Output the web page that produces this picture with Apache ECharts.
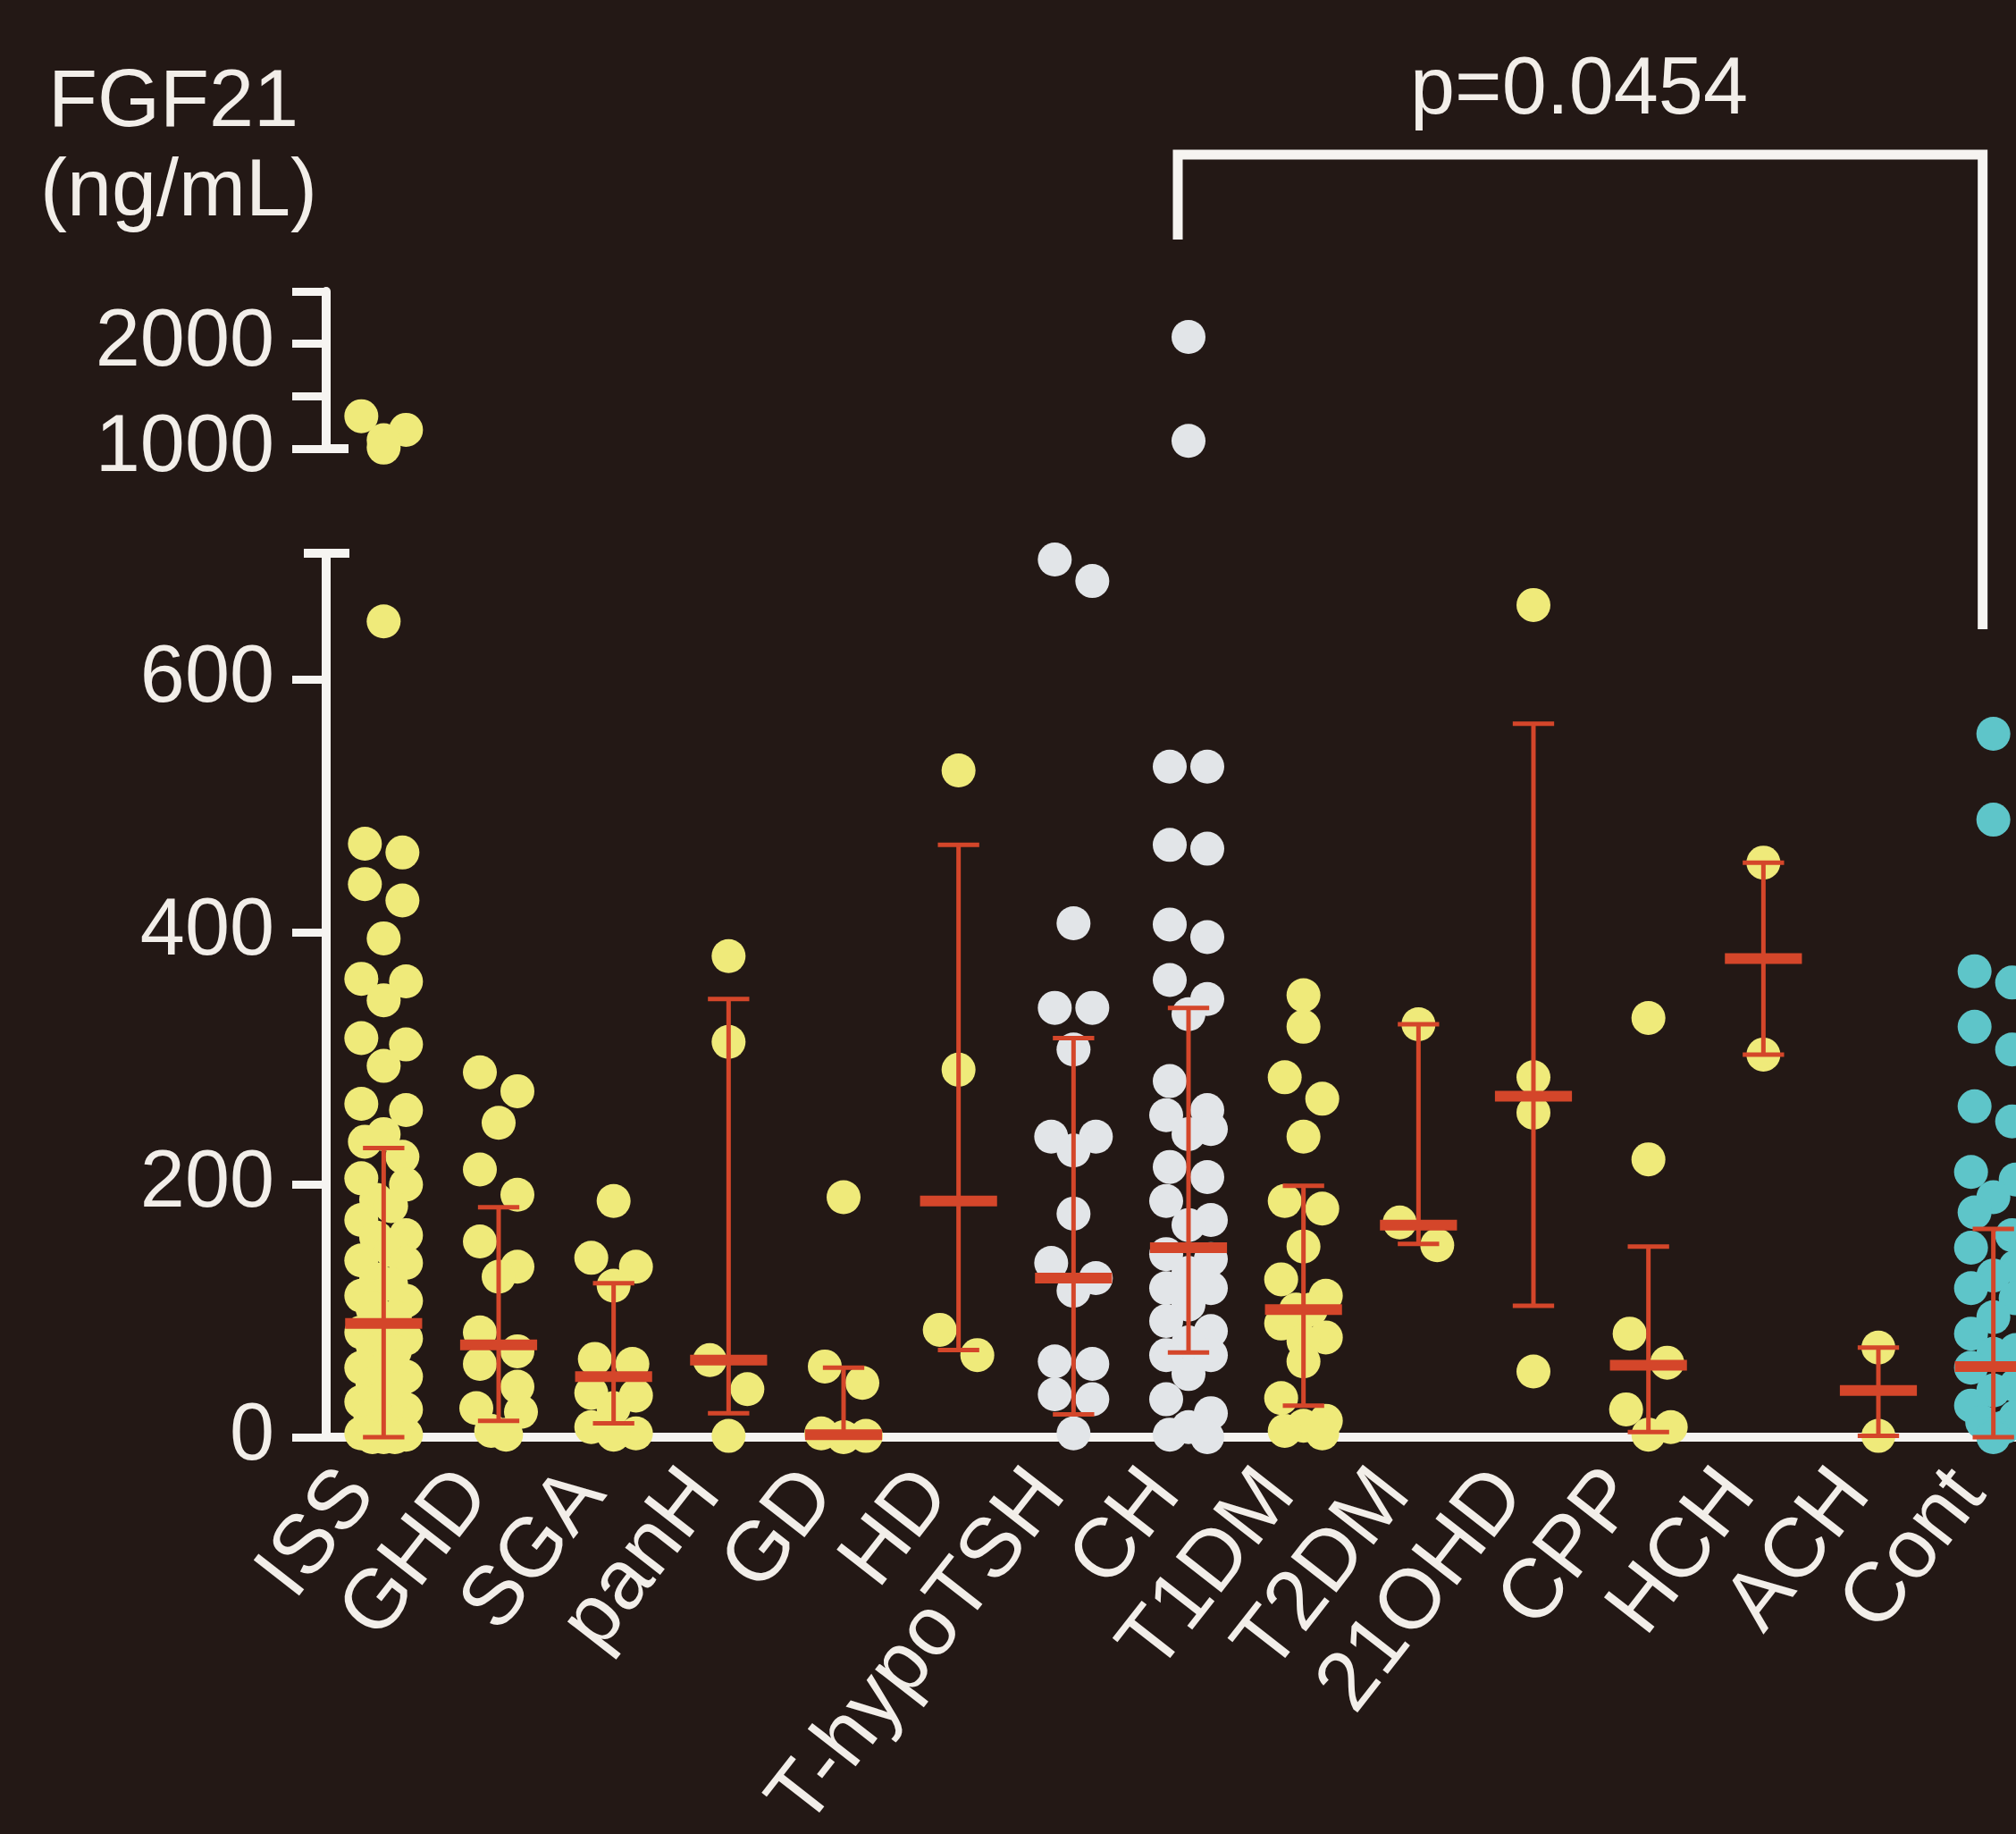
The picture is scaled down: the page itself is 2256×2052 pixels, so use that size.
<!DOCTYPE html>
<html>
<head>
<meta charset="utf-8">
<script src="https://cdn.jsdelivr.net/npm/echarts@6/dist/echarts.min.js"></script>
<style>
html, body { margin: 0; padding: 0; background: #231815; overflow: hidden; }
#chart { width: 2320px; height: 2052px; }
</style>
</head>
<body>
<div id="chart"></div>
<script>
// groups along the x axis
var groups = ['ISS', 'GHD', 'SGA', 'panH', 'GD', 'HD', 'T-hypoTSH', 'CH', 'T1DM', 'T2DM', '21OHD', 'CPP', 'HCH', 'ACH', 'Cont'];

// FGF21 (ng/mL), one array per group (values >= 1000 go to the upper segment)
var issValues = [1310, 1180, 1080, 1010, 646, 470, 463, 438, 425, 395, 363, 361, 346, 316, 311, 294, 264, 259, 240, 234, 222, 205, 200, 188, 183, 172, 160, 158, 148, 140, 138, 125, 121, 112, 108, 102, 95, 88, 83, 78, 73, 68, 60, 55, 48, 42, 38, 32, 28, 22, 18, 12, 8, 5, 3, 2, 0, 0, 0];
var ghdValues = [289, 274, 249, 212, 192, 155, 135, 127, 83, 68, 58, 40, 23, 20, 5, 2];
var sgaValues = [187, 142, 135, 120, 62, 58, 35, 33, 23, 8, 3, 2];
var panhValues = [381, 313, 61, 38, 1];
var gdValues = [190, 56, 43, 3, 1, 0];
var hdValues = [528, 291, 85, 65];
var thypoValues = [695, 678, 407, 340, 340, 307, 238, 238, 227, 177, 138, 126, 116, 60, 58, 34, 30, 3];
var chValues = [2065, 1075, 531, 531, 469, 466, 406, 396, 362, 347, 335, 282, 259, 255, 244, 240, 214, 206, 187, 172, 168, 145, 141, 130, 118, 118, 105, 92, 84, 75, 65, 65, 50, 30, 19, 8, 2, 0];
var t1dmValues = [350, 325, 285, 268, 238, 187, 181, 151, 125, 112, 101, 101, 90, 79, 76, 60, 31, 13, 9, 5, 3];
var t2dmValues = [327, 170, 152];
var ohdValues = [659, 285, 257, 52];
var cppValues = [332, 220, 82, 59, 22, 8, 2];
var hchValues = [455, 303];
var achValues = [71, 1];
var contValues = [557, 489, 369, 360, 325, 307, 262, 250, 210, 204, 190, 178, 160, 150, 135, 128, 118, 110, 95, 82, 69, 66, 55, 41, 37, 25, 16, 12, 8, 3, 0];

// summary bars (centre line and whiskers) per group
var barCenter = [90, 73, 48, 61, 2, 187, 126, 150, 101, 168, 270, 57, 379, 37, 56];
var barLow = [0, 13, 11, 19, 0, 69, 18, 67, 25, 153, 104, 4, 303, 1, 0];
var barHigh = [229, 182, 122, 347, 55, 469, 316, 340, 199, 327, 565, 151, 455, 71, 165];

// axis ticks
var lowerTicks = [0, 200, 400, 600];
var upperTicks = [1000, 1500, 2000, 2500];
var upperLabels = [1000, 2000];
var pValueText = 'p=0.0454';

var groupValues = [issValues, ghdValues, sgaValues, panhValues, gdValues, hdValues, thypoValues, chValues,
  t1dmValues, t2dmValues, ohdValues, cppValues, hchValues, achValues, contValues];

var yellow = '#EFEA7A', grey = '#E2E5E8', teal = '#5EC5C9';
var dotColor = function (i) {
  if (i === 6 || i === 7) return grey;
  if (i === 14) return teal;
  return yellow;
};
var white = '#F6F4F1';
var textColor = '#F2EEE9';
var barColor = '#D4462A';
var fontFamily = '"Liberation Sans", Arial, sans-serif';

var chart = echarts.init(document.getElementById('chart'));

function yAxisOf(grid, min, max, interval, ticks, labels) {
  return {
    type: 'value', gridIndex: grid, min: min, max: max, interval: interval,
    splitLine: { show: false },
    axisLine: { show: true, onZero: false, lineStyle: { color: white, width: 10 } },
    axisTick: { show: true, length: 38, customValues: ticks, lineStyle: { color: white, width: 9 } },
    axisLabel: {
      customValues: labels, margin: 58, color: textColor, fontSize: 90, fontFamily: fontFamily,
      formatter: function (v) { return String(v); }
    }
  };
}

chart.setOption({
  backgroundColor: '#231815',
  animation: false,
  grid: [
    { left: 365, top: 326, width: 1930, height: 176, outerBoundsMode: 'none', containLabel: false },
    { left: 365, top: 619, width: 1930, height: 989, outerBoundsMode: 'none', containLabel: false }
  ],
  xAxis: [
    {
      type: 'category', gridIndex: 1, data: groups, boundaryGap: true,
      axisLine: { onZero: false, lineStyle: { color: white, width: 10 } },
      axisTick: { alignWithLabel: true, length: 38, lineStyle: { color: white, width: 9 } },
      axisLabel: {
        interval: 0, rotate: 52, margin: 14, padding: [0, 44, 0, 0],
        color: textColor, fontSize: 94, fontFamily: fontFamily
      }
    },
    { type: 'value', gridIndex: 1, min: -0.5, max: 14.5, show: false },
    { type: 'value', gridIndex: 0, min: -0.5, max: 14.5, show: false }
  ],
  yAxis: [
    yAxisOf(0, 1000, 2500, 500, upperTicks, upperLabels),
    yAxisOf(1, 0, 700, 100, lowerTicks, lowerTicks)
  ]
});

// pixel scales from the axes
var pxPerX = chart.convertToPixel({ xAxisIndex: 1 }, 1) - chart.convertToPixel({ xAxisIndex: 1 }, 0);
var pxLower = Math.abs(chart.convertToPixel({ yAxisIndex: 1 }, 100) - chart.convertToPixel({ yAxisIndex: 1 }, 0)) / 100;
var pxUpper = Math.abs(chart.convertToPixel({ yAxisIndex: 0 }, 1100) - chart.convertToPixel({ yAxisIndex: 0 }, 1000)) / 100;

// row-based dot spreading (values close together are laid side by side)
function spread(vals, pxPerUnit) {
  var order = vals.map(function (v, k) { return k; }).sort(function (a, b) { return vals[b] - vals[a]; });
  var offs = new Array(vals.length);
  var k = 0;
  while (k < order.length) {
    var top = vals[order[k]];
    var row = [];
    while (k < order.length && (top - vals[order[k]]) * pxPerUnit <= 34) { row.push(order[k]); k++; }
    var n = row.length;
    var gap = n > 1 ? Math.min(42, 50 / (n - 1)) : 0;
    var asc = row.slice().reverse();
    var slots = [];
    for (var j = 0; j < n; j++) slots.push(Math.abs((j - (n - 1) / 2) * gap));
    slots.sort(function (a, b) { return a - b; });
    var s = 0, a = 0;
    while (a < asc.length) {
      if (slots[s] < 1e-6) { offs[asc[a]] = 0; a++; s++; }
      else if (a + 1 < asc.length) { offs[asc[a]] = slots[s]; offs[asc[a + 1]] = -slots[s]; a += 2; s += 2; }
      else { offs[asc[a]] = slots[s]; a++; s++; }
    }
  }
  return offs;
}

var lowerDots = [], upperDots = [];
groupValues.forEach(function (vals, i) {
  var lo = vals.filter(function (v) { return v < 1000; });
  var hi = vals.filter(function (v) { return v >= 1000; });
  var offLo = spread(lo, pxLower), offHi = spread(hi, pxUpper);
  lo.forEach(function (v, k) { lowerDots.push({ value: [i + offLo[k] / pxPerX, v], itemStyle: { color: dotColor(i) } }); });
  hi.forEach(function (v, k) { upperDots.push({ value: [i + offHi[k] / pxPerX, v], itemStyle: { color: dotColor(i) } }); });
});

function renderBar(params, api) {
  var i = api.value(0);
  var c = api.coord([i, api.value(1)]);
  var lo = api.coord([i, api.value(2)]);
  var hi = api.coord([i, api.value(3)]);
  var band = api.size([1, 0])[0];
  var cap = band * 0.18, mean = band * 0.335;
  var thin = { stroke: barColor, lineWidth: 5 };
  return {
    type: 'group',
    children: [
      { type: 'line', shape: { x1: c[0], y1: hi[1], x2: c[0], y2: lo[1] }, style: thin },
      { type: 'line', shape: { x1: c[0] - cap, y1: hi[1], x2: c[0] + cap, y2: hi[1] }, style: thin },
      { type: 'line', shape: { x1: c[0] - cap, y1: lo[1], x2: c[0] + cap, y2: lo[1] }, style: thin },
      { type: 'line', shape: { x1: c[0] - mean, y1: c[1], x2: c[0] + mean, y2: c[1] }, style: { stroke: barColor, lineWidth: 12 } }
    ]
  };
}

var axisX = chart.convertToPixel({ xAxisIndex: 1 }, -0.5);
var capY = chart.convertToPixel({ yAxisIndex: 1 }, 700);
var breakY = chart.convertToPixel({ yAxisIndex: 0 }, 1000);
var chX = chart.convertToPixel({ xAxisIndex: 0 }, 'CH') - 12;
var contX = chart.convertToPixel({ xAxisIndex: 0 }, 'Cont') - 12;

function txt(text, x, y) {
  return {
    type: 'text', z: 10,
    style: { text: text, x: x, y: y, fill: textColor, font: '90px ' + fontFamily,
      align: 'center', verticalAlign: 'middle', textAlign: 'center', textVerticalAlign: 'middle' }
  };
}
var lineStyle = { stroke: white, lineWidth: 10 };

chart.setOption({
  series: [
    { type: 'scatter', xAxisIndex: 1, yAxisIndex: 1, symbolSize: 38, clip: false, z: 2, itemStyle: { opacity: 1 }, data: lowerDots },
    { type: 'scatter', xAxisIndex: 2, yAxisIndex: 0, symbolSize: 38, clip: false, z: 2, itemStyle: { opacity: 1 }, data: upperDots },
    {
      type: 'custom', xAxisIndex: 0, yAxisIndex: 1, z: 3, renderItem: renderBar,
      data: groups.map(function (g, i) { return [i, barCenter[i], barLow[i], barHigh[i]]; })
    }
  ],
  graphic: [
    txt('FGF21', 194, 116),
    txt('(ng/mL)', 200, 216),
    txt(pValueText, 1767, 102),
    { type: 'line', shape: { x1: axisX - 25, y1: capY, x2: axisX + 26, y2: capY }, style: lineStyle },
    { type: 'line', shape: { x1: axisX, y1: breakY, x2: axisX + 25, y2: breakY }, style: lineStyle },
    {
      type: 'polyline',
      shape: { points: [[chX, 268], [chX, 173], [contX, 173], [contX, 704]] },
      style: { stroke: white, lineWidth: 11, fill: null, lineJoin: 'miter' }
    }
  ]
});
</script>
</body>
</html>
